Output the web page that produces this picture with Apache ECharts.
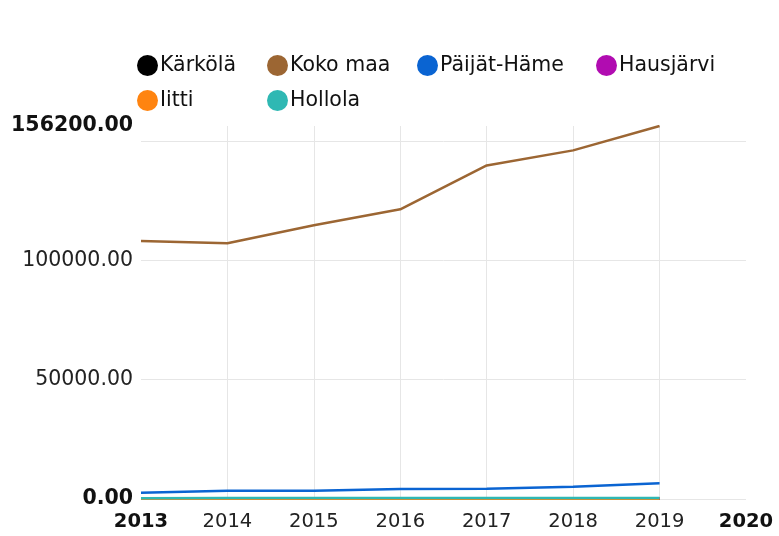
<!DOCTYPE html>
<html><head><meta charset="utf-8">
<script src="https://cdn.jsdelivr.net/npm/echarts@6/dist/echarts.min.js"></script>
<style>html,body{margin:0;padding:0;background:#fff}#c{width:779px;height:536px}</style>
</head><body><div id="c"></div>
<script>
const years = [2013, 2014, 2015, 2016, 2017, 2018, 2019];
const seriesNames = ['Kärkölä', 'Koko maa', 'Päijät-Häme', 'Hausjärvi', 'Iitti', 'Hollola'];
const karkola = [120, 125, 130, 135, 140, 145, 150];
const kokoMaa = [108000, 107100, 114600, 121300, 139700, 146000, 156200];
const paijatHame = [2640, 3450, 3500, 4180, 4300, 5150, 6570];
const hausjarvi = [150, 155, 160, 165, 170, 180, 190];
const iitti = [110, 115, 120, 125, 130, 135, 140];
const hollola = [350, 370, 380, 400, 420, 440, 460];
const colors = ['#000000', '#9c6633', '#0a64d2', '#b10cb1', '#ff8410', '#2fb8b3'];
const yMin = 0, yMax = 156200, yInterval = 50000;
const xMin = 2013, xMax = 2020;

const allData = [karkola, kokoMaa, paijatHame, hausjarvi, iitti, hollola];
const legendPos = [[132, 50], [262, 50], [412, 50], [591, 50], [132, 85], [262, 85]];
const font = 'DejaVu Sans';

const chart = echarts.init(document.getElementById('c'));
chart.setOption({
  animation: false,
  legend: seriesNames.map((n, i) => ({
    data: [n], left: legendPos[i][0], top: legendPos[i][1],
    icon: 'circle', itemWidth: 21, itemHeight: 21,
    textStyle: {fontFamily: font, fontSize: 20.5, color: '#111', padding: [0, 0, 0, -3]}
  })),
  grid: {left: 141, right: 33, top: 126, bottom: 37},
  xAxis: {
    type: 'value', min: xMin, max: xMax, interval: 1,
    axisLine: {show: false}, axisTick: {show: false},
    splitLine: {show: true, showMinLine: false, showMaxLine: false, lineStyle: {color: '#e6e6e6', width: 1}},
    axisLabel: {
      margin: 13, fontFamily: font, fontSize: 19.5, color: '#222',
      formatter: v => (v === xMin || v === xMax) ? '{b|' + v + '}' : String(v),
      rich: {b: {fontWeight: 'bold', fontFamily: font, fontSize: 19.5, color: '#111'}}
    }
  },
  yAxis: {
    type: 'value', min: yMin, max: yMax, interval: yInterval,
    axisLine: {show: false}, axisTick: {show: false},
    splitLine: {show: true, showMaxLine: false, lineStyle: {color: '#e6e6e6', width: 1}},
    axisLabel: {
      margin: 8, fontFamily: font, fontSize: 20.5, color: '#222',
      showMaxLabel: true,
      formatter: v => {
        if (v !== yMax && v + yInterval > yMax && v !== yMin) return '';
        const s = v.toFixed(2);
        return (v === yMin || v === yMax) ? '{b|' + s + '}' : s;
      },
      rich: {b: {fontWeight: 'bold', fontFamily: font, fontSize: 20.5, color: '#111'}}
    }
  },
  series: seriesNames.map((n, i) => ({
    name: n, type: 'line', showSymbol: false, symbol: 'circle',
    color: colors[i], lineStyle: {width: 2.5, color: colors[i]},
    data: years.map((y, k) => [y, allData[i][k]])
  }))
});
</script></body></html>
